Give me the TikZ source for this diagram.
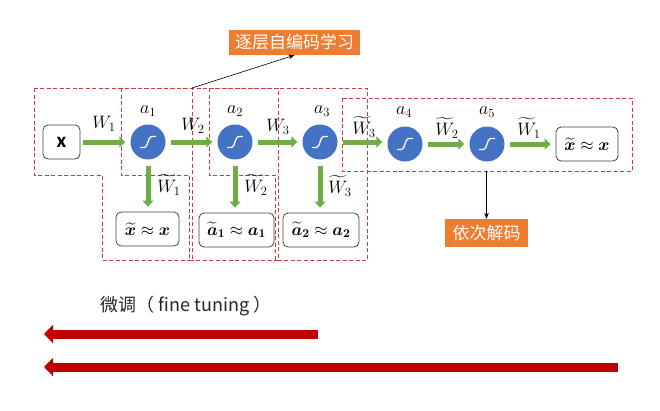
\RequirePackage{fix-cm}
\documentclass[tikz,border=0pt]{standalone}
\usepackage{fontspec}
\usepackage{amsmath,bm}
\usetikzlibrary{arrows.meta}
\newfontfamily\cjk{Noto Sans CJK SC}
\newfontfamily\carlito{Carlito}
\definecolor{gArr}{HTML}{70AD47}
\definecolor{nBlue}{HTML}{4472C4}
\definecolor{oBox}{HTML}{ED7D31}
\definecolor{dRed}{HTML}{C00000}
\definecolor{dashRed}{RGB}{205,60,60}
\begin{document}
\begin{tikzpicture}[x=1pt,y=-1pt,
  neuron/.style={circle, fill=nBlue, minimum size=35pt, inner sep=0pt},
  vbox/.style={draw=black!75, rounded corners=5pt, line width=0.8pt, minimum height=34pt, inner sep=2pt, font=\fontsize{17}{19}\selectfont},
  garrow/.style={draw=gArr, line width=5pt, -{Triangle[width=11pt,length=6pt]}, shorten <=5pt, shorten >=5pt},
  rarrow/.style={draw=dRed, line width=9pt, -{Triangle[width=18pt,length=9pt]}},
  lab/.style={font=\fontsize{18}{20}\selectfont, inner sep=0pt},
  obox/.style={fill=oBox, text=white, font=\cjk\fontsize{17}{19}\selectfont, inner sep=0pt},
  region/.style={draw=dashRed, line width=0.8pt, dash pattern=on 4pt off 2.5pt},
  sigm/.style={draw=white, line width=1.3pt},
  thinarr/.style={draw=black, line width=0.6pt, -{Stealth[length=6pt,width=4.5pt]}}
]
\useasboundingbox (0,0) rectangle (660,410);

% dashed regions
\draw[region] (34,88) -- (34,175) -- (102,175) -- (102,260) -- (192,260) -- (192,88) -- cycle;
\draw[region] (121,88) -- (121,175) -- (189,175) -- (189,260) -- (278,260) -- (278,88) -- cycle;
\draw[region] (209,88) -- (209,175) -- (275.5,175) -- (275.5,260) -- (367,260) -- (367,88) -- cycle;
\draw[region] (342,98) rectangle (632,171);

% nodes
\node[vbox, minimum width=37pt, font=\carlito\bfseries\fontsize{21}{22}\selectfont] (in) at (61.5,142) {x};
\node[neuron] (a1) at (148,142) {};
\node[neuron] (a2) at (235,142) {};
\node[neuron] (a3) at (320,142) {};
\node[neuron] (a4) at (405,144) {};
\node[neuron] (a5) at (487,144) {};
\node[vbox, minimum width=62pt] (out) at (587,144) {$\widetilde{\bm{x}}\approx\bm{x}$};
\node[vbox, minimum width=63pt] (r1) at (147.5,229) {$\widetilde{\bm{x}}\approx\bm{x}$};
\node[vbox, minimum width=75pt] (r2) at (236.5,230) {$\widetilde{\bm{a}}_{\bm{1}}\approx\bm{a}_{\bm{1}}$};
\node[vbox, minimum width=76pt] (r3) at (321,230) {$\widetilde{\bm{a}}_{\bm{2}}\approx\bm{a}_{\bm{2}}$};

\foreach \n in {a1,a2,a3,a4,a5}
  \draw[sigm, shift={(\n.center)}] (-8,5.5) -- (-3.5,5.5) .. controls (0,5.5) and (0,-5.5) .. (3.5,-5.5) -- (8,-5.5);

% green connectors
\draw[garrow, shorten <=3pt] (in) -- (a1);
\draw[garrow] (a1) -- (a2);
\draw[garrow] (a2) -- (a3);
\draw[garrow] (a3.east) -- (a4.west |- a3.east);
\draw[garrow] (a4) -- (a5);
\draw[garrow] (a5) -- (out);
\draw[garrow, shorten <=6pt] (a1) -- (r1.north -| a1);
\draw[garrow, shorten <=6pt] (a2) -- (r2.north -| a2);
\draw[garrow, shorten <=6pt] (a3) -- (r3.north -| a3);

% labels
\node[lab] (lw1) at (104,124) {$W_1$};
\node[lab] (lw2) at (193,126) {$W_2$};
\node[lab] (lw3) at (278,127) {$W_3$};
\node[lab] (lt3) at (364,127) {$\widetilde{W}_3$};
\node[lab] (lt2) at (447,128) {$\widetilde{W}_2$};
\node[lab] (lt1) at (529,128) {$\widetilde{W}_1$};
\node[lab] (la1) at (148,111) {$a_1$};
\node[lab] (la2) at (235,111) {$a_2$};
\node[lab] (la3) at (322,111) {$a_3$};
\node[lab] (la4) at (404,112) {$a_4$};
\node[lab] (la5) at (487,112) {$a_5$};
\node[lab] (ld1) at (169,185) {$\widetilde{W}_1$};
\node[lab] (ld2) at (256,185) {$\widetilde{W}_2$};
\node[lab] (ld3) at (340,186) {$\widetilde{W}_3$};

% orange boxes and thin arrows
\node[obox, minimum width=131pt, minimum height=25pt] (enc) at (294.5,42.5) {逐层自编码学习};
\node[obox, minimum width=83pt, minimum height=28pt] (dec) at (486.5,233) {依次解码};
\coordinate (c1) at (192,88);
\coordinate (dtop) at (486.5,171);
\draw[thinarr] (c1) -- (enc.south);
\draw[thinarr] (dtop) -- (dec.north);

% fine tuning
\node[font=\cjk\fontsize{18}{20}\selectfont, text=black!85, inner sep=0pt] (ft) at (186,306) {微调（ fine tuning ）};
\coordinate (f1r) at (318,334);
\coordinate (f1l) at (44,334);
\coordinate (f2r) at (618,367);
\coordinate (f2l) at (44,367);
\draw[rarrow] (f1r) -- (f1l);
\draw[rarrow] (f2r) -- (f2l);
\end{tikzpicture}
\end{document}
